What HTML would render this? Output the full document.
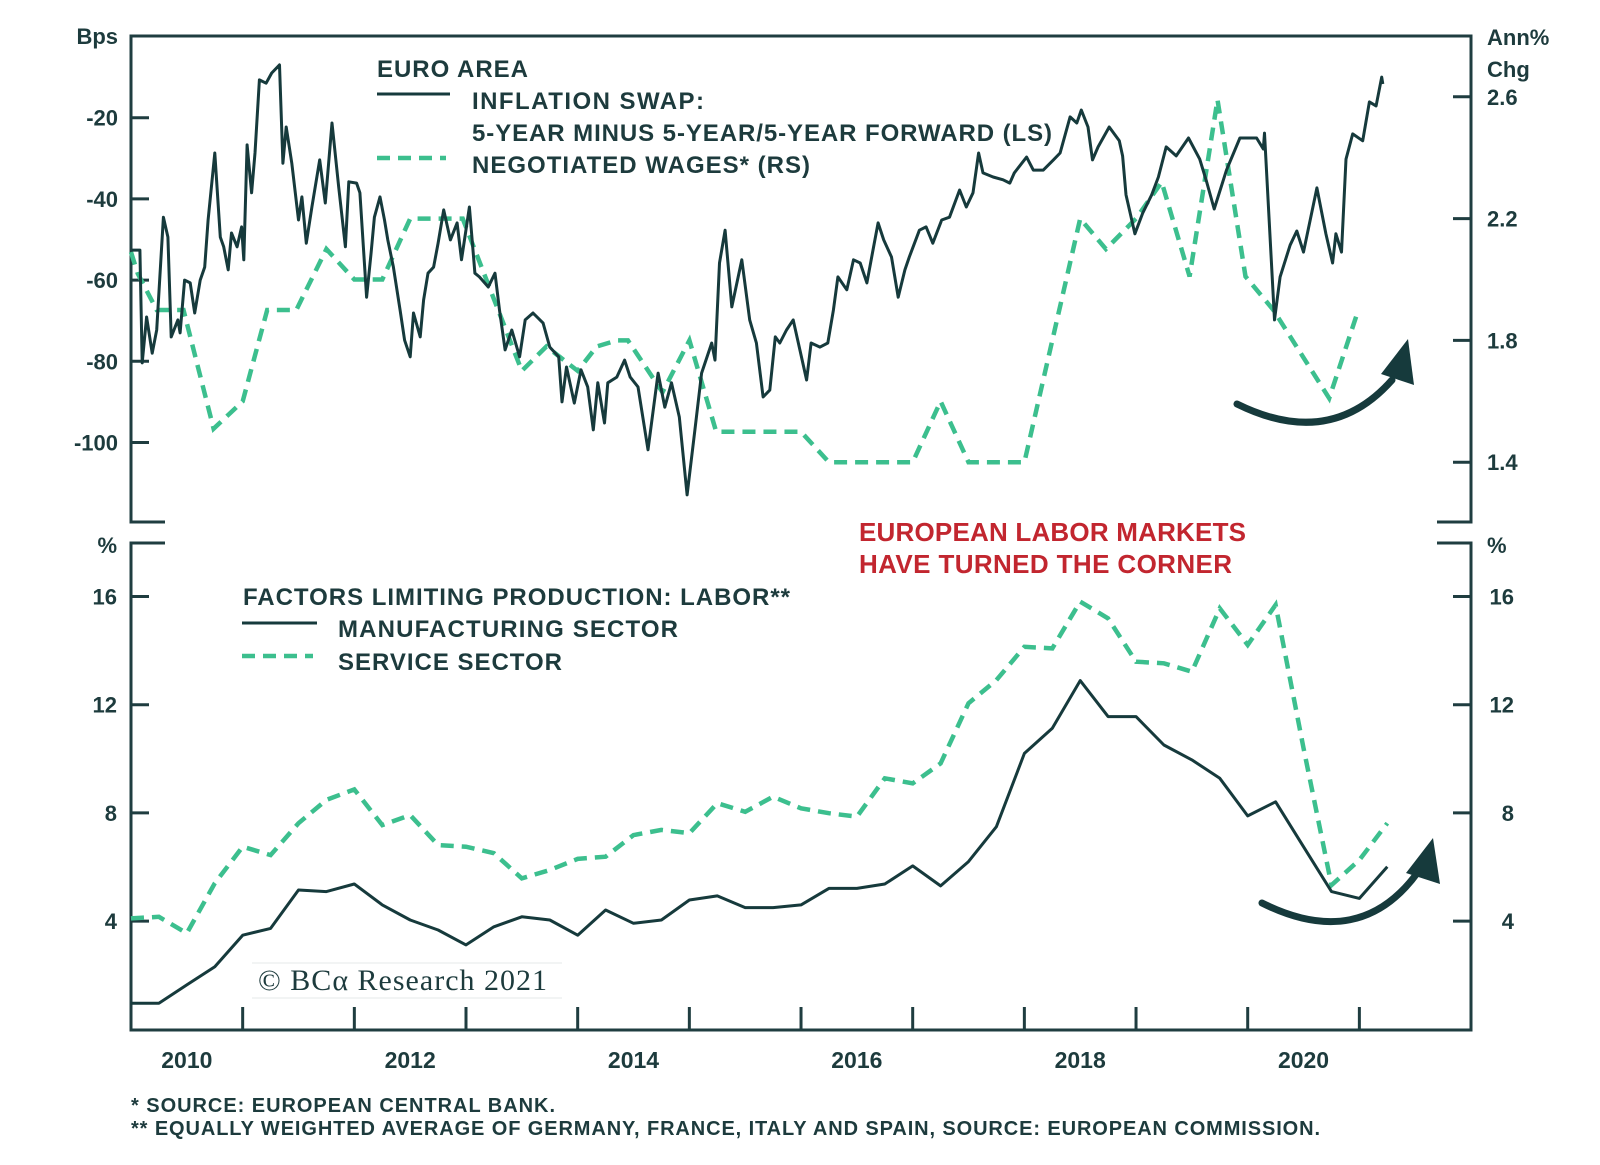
<!DOCTYPE html>
<html><head><meta charset="utf-8">
<style>
html,body{margin:0;padding:0;background:#fff;}
svg{display:block;}
text{font-family:"Liberation Sans",Arial,sans-serif;fill:#1d3b3d;}
.b{font-weight:bold;}
</style></head>
<body>
<svg id="chart" width="1600" height="1165" viewBox="0 0 1600 1165" xmlns="http://www.w3.org/2000/svg">
<g id="frame" stroke="#1f3d40" stroke-width="3" fill="none">
  <path d="M165,522 L131,522 L131,36 L1471,36 L1471,522 L1437,522"/>
  <path d="M165,543 L131,543 L131,1030 L1471,1030 L1471,543 L1437,543"/>
</g>
<g id="ticks" stroke="#1f3d40" stroke-width="3"></g>
<g id="labels" class="b" font-size="22"></g>
<text x="118" y="44" text-anchor="end" class="b" font-size="22">Bps</text>
<text x="1487" y="45" class="b" font-size="22">Ann%</text>
<text x="1487" y="77" class="b" font-size="22">Chg</text>
<text x="117" y="553" text-anchor="end" class="b" font-size="22">%</text>
<text x="1487" y="553" class="b" font-size="22">%</text>

<g id="legend-top">
  <text x="377" y="77" class="b" font-size="24" textLength="151">EURO AREA</text>
  <line x1="377" y1="94" x2="450" y2="94" stroke="#163a3c" stroke-width="3"/>
  <text x="472" y="109" class="b" font-size="24" textLength="232">INFLATION SWAP:</text>
  <text x="472" y="141" class="b" font-size="24" textLength="580">5-YEAR MINUS 5-YEAR/5-YEAR FORWARD (LS)</text>
  <line x1="377" y1="158" x2="446" y2="158" stroke="#3cbf8e" stroke-width="4.5" stroke-dasharray="13,8"/>
  <text x="472" y="173" class="b" font-size="24" textLength="338">NEGOTIATED WAGES* (RS)</text>
</g>
<g id="legend-bottom">
  <text x="243" y="605" class="b" font-size="24" textLength="547">FACTORS LIMITING PRODUCTION: LABOR**</text>
  <line x1="242" y1="623" x2="317" y2="623" stroke="#163a3c" stroke-width="3"/>
  <text x="338" y="637" class="b" font-size="24" textLength="340">MANUFACTURING SECTOR</text>
  <line x1="242" y1="656" x2="313" y2="656" stroke="#3cbf8e" stroke-width="4.5" stroke-dasharray="13,8"/>
  <text x="338" y="670" class="b" font-size="24" textLength="224">SERVICE SECTOR</text>
</g>
<text x="859" y="541" font-size="26" font-weight="bold" style="fill:#c2262f" textLength="387">EUROPEAN LABOR MARKETS</text>
<text x="859" y="573" font-size="26" font-weight="bold" style="fill:#c2262f" textLength="373">HAVE TURNED THE CORNER</text>

<g>
  <line x1="252" y1="963" x2="562" y2="963" stroke="#e6e9e9" stroke-width="1"/>
  <line x1="252" y1="998" x2="562" y2="998" stroke="#e6e9e9" stroke-width="1"/>
  <text x="258" y="990" font-size="30" textLength="289" style="font-family:'Liberation Serif',serif">© BCα Research 2021</text>
</g>

<g id="series"></g>

<g fill="#163a3c">
  <path d="M1237,404 Q1330,450 1392,380" fill="none" stroke="#163a3c" stroke-width="7" stroke-linecap="round"/>
  <path d="M1408,339 L1381,374 L1414,385 Z"/>
</g>
<g fill="#163a3c">
  <path d="M1262,903 Q1360,952 1418,872" fill="none" stroke="#163a3c" stroke-width="7" stroke-linecap="round"/>
  <path d="M1433,838 L1406,873 L1440,884 Z"/>
</g>

<text x="131" y="1112" class="b" font-size="20" textLength="424">*  SOURCE: EUROPEAN CENTRAL BANK.</text>
<text x="131" y="1135" class="b" font-size="20" textLength="1189">** EQUALLY WEIGHTED AVERAGE OF GERMANY, FRANCE, ITALY AND SPAIN, SOURCE: EUROPEAN COMMISSION.</text>
</svg>
<script>
const swapT = [2010.01,2010.08,2010.10,2010.14,2010.19,2010.23,2010.29,2010.33,2010.36,2010.42,2010.44,2010.48,2010.53,2010.57,2010.62,2010.66,2010.69,2010.75,2010.80,2010.83,2010.87,2010.90,2010.95,2010.99,2011.01,2011.04,2011.08,2011.11,2011.15,2011.21,2011.26,2011.33,2011.36,2011.39,2011.44,2011.50,2011.53,2011.57,2011.62,2011.69,2011.74,2011.80,2011.86,2011.92,2011.95,2012.02,2012.05,2012.10,2012.11,2012.15,2012.18,2012.23,2012.27,2012.30,2012.35,2012.41,2012.45,2012.50,2012.53,2012.59,2012.62,2012.66,2012.71,2012.75,2012.80,2012.86,2012.92,2012.96,2013.03,2013.08,2013.12,2013.20,2013.26,2013.30,2013.35,2013.41,2013.48,2013.53,2013.60,2013.69,2013.75,2013.83,2013.86,2013.90,2013.97,2014.03,2014.09,2014.14,2014.18,2014.24,2014.27,2014.35,2014.42,2014.47,2014.54,2014.63,2014.72,2014.78,2014.84,2014.91,2014.98,2015.05,2015.11,2015.20,2015.23,2015.27,2015.32,2015.38,2015.47,2015.54,2015.60,2015.66,2015.72,2015.77,2015.81,2015.87,2015.93,2015.99,2016.05,2016.09,2016.17,2016.24,2016.29,2016.33,2016.41,2016.47,2016.53,2016.59,2016.65,2016.69,2016.74,2016.81,2016.87,2016.93,2016.97,2017.06,2017.12,2017.18,2017.26,2017.33,2017.42,2017.48,2017.54,2017.59,2017.63,2017.72,2017.81,2017.87,2017.91,2018.02,2018.08,2018.17,2018.26,2018.32,2018.41,2018.47,2018.51,2018.57,2018.61,2018.66,2018.76,2018.85,2018.88,2018.91,2018.99,2019.06,2019.14,2019.20,2019.27,2019.36,2019.47,2019.57,2019.63,2019.70,2019.81,2019.93,2020.08,2020.14,2020.15,2020.24,2020.29,2020.38,2020.44,2020.50,2020.62,2020.70,2020.76,2020.79,2020.84,2020.88,2020.94,2021.03,2021.09,2021.15,2021.20,2021.21];
const swapV = [-52.6,-52.6,-80.4,-69.1,-78.0,-72.3,-44.5,-49.4,-74.0,-69.8,-73.0,-60.0,-60.7,-68.1,-60.0,-56.8,-45.2,-28.7,-49.4,-51.8,-57.5,-48.4,-51.8,-46.9,-55.0,-26.7,-38.5,-28.7,-10.7,-11.5,-9.0,-7.0,-31.2,-22.3,-31.2,-45.2,-39.5,-50.9,-42.0,-30.4,-41.0,-21.3,-37.1,-51.8,-35.8,-36.1,-38.5,-60.0,-64.2,-53.3,-44.5,-39.5,-45.2,-50.1,-56.8,-67.4,-74.8,-78.9,-68.1,-74.0,-64.9,-58.3,-56.8,-50.9,-42.7,-50.1,-45.9,-55.0,-42.0,-58.3,-59.2,-61.7,-58.3,-67.4,-77.2,-72.3,-78.9,-69.8,-68.1,-70.6,-76.5,-78.9,-90.0,-81.4,-90.3,-82.1,-86.3,-96.9,-85.3,-95.2,-85.3,-83.9,-79.7,-83.9,-86.3,-101.8,-82.9,-91.3,-85.3,-93.7,-112.9,-96.9,-82.9,-75.5,-79.7,-55.8,-47.7,-66.6,-55.0,-69.8,-75.5,-88.8,-87.1,-74.0,-75.5,-72.3,-69.8,-77.2,-84.6,-75.5,-76.5,-75.5,-67.4,-59.2,-62.4,-55.0,-55.8,-60.7,-51.8,-45.9,-50.1,-54.3,-64.2,-57.5,-54.3,-47.7,-46.9,-50.9,-45.2,-44.5,-37.8,-42.0,-38.5,-28.7,-33.6,-34.6,-35.3,-36.1,-33.6,-29.7,-32.9,-32.9,-30.4,-28.7,-19.8,-21.3,-18.1,-22.3,-30.4,-27.2,-22.3,-25.7,-29.4,-39.0,-48.6,-43.5,-39.0,-34.6,-27.2,-29.4,-25.0,-30.2,-35.6,-42.5,-32.9,-25.0,-25.0,-27.7,-23.8,-69.8,-59.2,-51.4,-47.9,-53.1,-37.3,-48.6,-55.8,-48.6,-53.1,-30.2,-24.0,-25.7,-16.1,-17.1,-10.0,-11.7];
const wageT = [2010.0,2010.06,2010.23,2010.47,2010.74,2011.0,2011.22,2011.48,2011.75,2012.0,2012.25,2012.5,2012.97,2013.5,2013.72,2014.0,2014.17,2014.35,2014.45,2014.76,2015.0,2015.24,2016.0,2016.25,2017.0,2017.25,2017.5,2018.0,2018.5,2018.73,2019.0,2019.23,2019.48,2019.73,2019.98,2020.23,2020.73,2020.99];
const wageV = [2.09,2.02,1.90,1.90,1.51,1.60,1.90,1.90,2.10,2.00,2.00,2.20,2.20,1.70,1.78,1.70,1.78,1.80,1.80,1.63,1.80,1.50,1.50,1.40,1.40,1.60,1.40,1.40,2.20,2.10,2.20,2.32,2.01,2.59,2.01,1.90,1.61,1.90];
const qStart = 2010.0;
const manufV = [0.96,0.96,1.64,2.31,3.48,3.73,5.15,5.09,5.37,4.60,4.04,3.67,3.12,3.79,4.16,4.04,3.48,4.41,3.92,4.04,4.78,4.93,4.50,4.50,4.60,5.21,5.21,5.37,6.04,5.30,6.20,7.49,10.20,11.13,12.89,11.56,11.56,10.51,9.96,9.28,7.89,8.41,6.75,5.09,4.84,6.01];
const serviceV = [4.10,4.16,3.55,5.40,6.75,6.44,7.62,8.48,8.87,7.55,7.92,6.81,6.75,6.51,5.58,5.89,6.30,6.38,7.18,7.37,7.25,8.36,8.04,8.60,8.17,7.99,7.86,9.28,9.09,9.83,12.05,12.91,14.14,14.08,15.81,15.19,13.59,13.53,13.22,15.56,14.21,15.69,10.40,5.33,6.26,7.62];
const leftTicks = [-20,-40,-60,-80,-100];
const rightTicks = [2.6,2.2,1.8,1.4];
const pctTicks = [16,12,8,4];
const yearTicks = [2011,2012,2013,2014,2015,2016,2017,2018,2019,2020,2021];
const yearLabels = [2010,2012,2014,2016,2018,2020];

const NS = "http://www.w3.org/2000/svg";
const X = t => 131 + (t - 2010) * 111.67;
const YL = v => 36.5 - v * 4.06;
const YR = v => 96.8 + (2.6 - v) * 304.5;
const YB = v => 1029.3 - v * 27.05;

function mk(tag, attrs, parent){ const e=document.createElementNS(NS,tag); for(const k in attrs) e.setAttribute(k,attrs[k]); parent.appendChild(e); return e; }
function pathFrom(ts, vs, yf){ let d=""; const n=Math.min(ts.length,vs.length); for(let i=0;i<n;i++){ d+=(i?"L":"M")+X(ts[i]).toFixed(1)+","+yf(vs[i]).toFixed(1);} return d; }

const ticks=document.getElementById('ticks'), labels=document.getElementById('labels'), series=document.getElementById('series');
leftTicks.forEach(v=>{
  const l=mk('line',{x1:131,x2:149,y1:YL(v),y2:YL(v)},ticks);
  
  
  const t=mk('text',{x:118,y:YL(v)+8,'text-anchor':'end'},labels); t.textContent=v;
  
  
});
rightTicks.forEach(v=>{
  const l=mk('line',{x1:1453,x2:1471,y1:YR(v),y2:YR(v)},ticks);
  
  
  const t=mk('text',{x:1487,y:YR(v)+8},labels); t.textContent=v.toFixed(1);
  
  
});
pctTicks.forEach(v=>{
  const l=mk('line',{x1:131,x2:149,y1:YB(v),y2:YB(v)},ticks);
  
  
  const l2=mk('line',{x1:1453,x2:1471,y1:YB(v),y2:YB(v)},ticks);
  
  
  const t=mk('text',{x:117,y:YB(v)+8,'text-anchor':'end'},labels); t.textContent=v;
  
  
  const t2=mk('text',{x:1514,y:YB(v)+8,'text-anchor':'end'},labels); t2.textContent=v;
  
  
});
yearTicks.forEach(y=>{
  const l=mk('line',{x1:X(y),x2:X(y),y1:1030,y2:1007},ticks);
  
  
});
yearLabels.forEach(y=>{
  const t=mk('text',{x:X(y+0.5),y:1068,'text-anchor':'middle','font-size':23},labels); t.textContent=y;
  
  
});
const qT = manufV.map((_,i)=>qStart+i*0.25);
const sT = serviceV.map((_,i)=>qStart+i*0.25);
const wp=mk('path',{d:pathFrom(wageT,wageV,YR),fill:'none',stroke:'#3cbf8e','stroke-width':4.5,'stroke-dasharray':'13,8'},series);


const sp=mk('path',{d:pathFrom(swapT,swapV,YL),fill:'none',stroke:'#163a3c','stroke-width':3,'stroke-linejoin':'round'},series);


const svp=mk('path',{d:pathFrom(sT,serviceV,YB),fill:'none',stroke:'#3cbf8e','stroke-width':4.5,'stroke-dasharray':'13,8'},series);


const mp=mk('path',{d:pathFrom(qT,manufV,YB),fill:'none',stroke:'#163a3c','stroke-width':3,'stroke-linejoin':'round'},series);


</script>
</body></html>
